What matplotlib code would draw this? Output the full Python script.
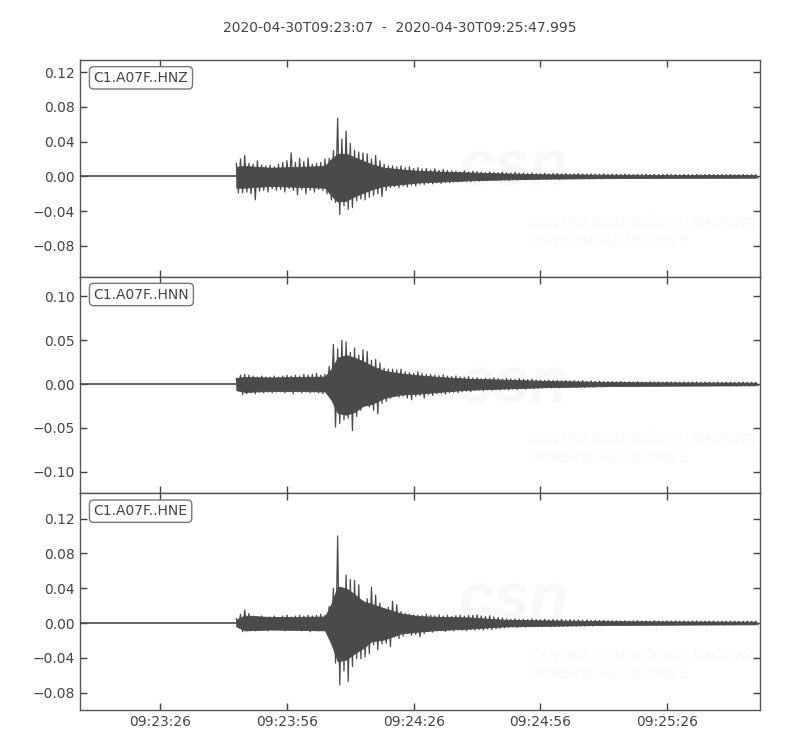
import numpy as np
import matplotlib
matplotlib.use("Agg")
import matplotlib.pyplot as plt
import matplotlib.dates as mdates
from matplotlib.ticker import MultipleLocator

# record span
START = "2020-04-30T09:23:07"
END = "2020-04-30T09:25:47.995"
ONSET_S = 36.85          # first arrival, seconds after start
FIRST_SAMPLE_S = 37      # first peak value, 1 s apart

CHANNELS = ["C1.A07F..HNZ", "C1.A07F..HNN", "C1.A07F..HNE"]

# positive / negative peaks of each trace, in 1e-3 units, one value per second
Z_UP = [15, 20, 24, 15, 14, 18, 13, 12, 13, 11, 14, 16, 18, 27, 16, 21, 17, 21, 14, 15, 16, 20,
        21, 30, 67, 43, 52, 38, 30, 28, 27, 26, 20, 24, 18, 14, 12, 12, 11, 12, 10, 11, 9, 10,
        8.5, 9.0, 7.5, 8.8, 7.0, 8.0, 6.8, 6.2,
        6.0, 5.2, 6.4, 5.0, 5.8, 5.3, 4.8, 4.3, 5.1, 4.6, 4.2, 5.0, 4.1, 3.9, 4.6, 3.8,
        3.6, 3.2, 3.9, 3.1, 3.0, 3.5, 2.9, 3.1, 3.3, 2.8, 3.0, 2.6, 2.9, 3.2, 2.7, 2.5,
        2.8, 2.6, 2.4, 2.9, 2.3, 2.7, 2.4, 2.2, 2.6, 2.3, 2.1, 2.4, 2.2, 2.5, 2.0, 2.3,
        2.1, 2.2, 2.4, 2.0, 2.2, 1.9, 2.3, 2.1, 2.0, 2.2, 1.9, 2.1, 2.3, 2.0, 1.9, 2.1,
        2.0, 2.2, 1.9, 2.0, 2.1, 1.8, 2.0, 1.9]
Z_LO = [-19, -19, -18, -20, -27, -17, -16, -18, -14, -16, -15, -18, -14, -16, -21, -15, -20, -16,
        -18, -15, -16, -20, -27, -30, -44, -34, -38, -36, -28, -26, -27, -24, -22, -20, -23, -16,
        -13, -12, -13, -11, -12, -10, -11, -9,
        -9.2, -8.0, -8.6, -7.4, -8.1, -6.9, -7.2, -6.5,
        -6.3, -5.7, -5.4, -6.0, -5.1, -5.5, -4.7, -5.0, -4.4, -4.8, -4.5, -4.0, -4.6, -3.9, -4.2, -3.7,
        -3.8, -3.4, -3.2, -3.6, -2.9, -3.3, -3.1, -2.8, -3.2, -2.9, -2.7, -3.0, -2.6, -2.8, -2.5, -2.9,
        -2.6, -2.4, -2.7, -2.3, -2.5, -2.6, -2.2, -2.4, -2.1, -2.5, -2.3, -2.0, -2.4, -2.2, -2.1, -2.3,
        -2.0, -2.2, -2.1, -1.9, -2.3, -2.0, -2.1, -2.2, -1.9, -2.0, -2.2, -1.8, -2.1, -2.0, -1.9, -2.2,
        -2.0, -1.9, -2.1, -1.8, -2.0, -2.1, -1.9, -2.0]

N_UP = [6, 10, 11, 10, 9, 8, 9, 8, 8, 9, 8, 9, 10, 9, 10, 9, 11, 10, 11, 12, 10, 11,
        20, 45, 40, 50, 48, 36, 41, 33, 39, 37, 27, 28, 24, 18, 17, 17, 16, 17, 14, 13, 12, 14,
        12, 11, 11, 10, 9.5, 10.5, 9.0, 8.5, 9.2, 8.0, 7.6, 8.2,
        6.8, 7.2, 6.1, 6.6, 5.9, 7.0, 6.2, 5.6, 6.4, 5.8, 5.2, 6.0, 5.4, 4.9, 5.5, 4.6,
        4.4, 4.0, 4.6, 3.9, 4.2, 3.7, 4.1, 3.6, 3.9, 3.4, 3.8, 3.2, 3.5, 3.0, 3.3, 2.9,
        2.7, 2.9, 2.5, 2.8, 2.4, 2.6, 2.3, 2.7, 2.4, 2.2, 2.6, 2.3, 2.5, 2.1, 2.4, 2.2,
        2.3, 2.0, 2.4, 2.1, 2.2, 2.3, 1.9, 2.2, 2.1, 2.0, 2.3, 1.9, 2.1, 2.2, 1.9, 2.0, 2.1, 1.9, 2.0, 1.9]
N_LO = [-8, -12, -11, -10, -11, -9, -10, -9, -10, -9, -9, -10, -9, -11, -9, -10, -9, -10, -9, -10,
        -11, -10, -16, -49, -45, -41, -39, -53, -37, -30, -24, -26, -30, -34, -22, -20, -16, -14,
        -15, -14, -16, -18, -14, -13,
        -16, -12, -13, -11, -10.5, -11.5, -10, -9.5, -9.8, -8.6, -8.0, -8.8,
        -7.4, -6.9, -7.6, -6.5, -7.1, -6.3, -6.8, -6.0, -6.6, -5.7, -6.2, -5.4, -5.9, -5.0, -5.3, -4.8,
        -4.6, -4.2, -4.5, -4.0, -4.3, -3.8, -4.1, -3.6, -3.9, -3.5, -3.7, -3.3, -3.4, -3.1, -3.2, -2.9,
        -2.8, -2.6, -2.9, -2.5, -2.7, -2.4, -2.6, -2.3, -2.5, -2.4, -2.2, -2.6, -2.3, -2.4, -2.1, -2.3,
        -2.2, -2.4, -2.0, -2.3, -2.1, -2.2, -2.0, -2.3, -1.9, -2.1, -2.2, -2.0, -2.1, -1.9, -2.2, -2.0,
        -1.9, -2.1, -2.0, -1.9]

E_UP = [5, 10, 15, 11, 8, 7, 8, 6, 7, 8, 6, 8, 9, 7, 8, 9, 8, 9, 8, 9, 10, 9,
        19, 40, 100, 40, 55, 50, 49, 44, 25, 28, 41, 32, 23, 15, 18, 25, 21, 13, 11, 10, 9, 9,
        8.5, 10, 9.0, 8.2, 9.4, 8.0, 8.8, 7.6, 8.4, 9.0, 7.8, 8.6,
        8.8, 9.4, 8.0, 7.6, 8.4, 7.0, 6.4, 5.8,
        4.6, 4.2, 4.8, 4.0, 4.4, 3.9, 4.6, 4.1, 3.8, 4.3, 3.7, 4.0, 3.6, 4.2, 3.5, 3.8,
        3.4, 3.6, 3.2, 3.5, 3.0, 3.3, 2.9, 3.1,
        2.8, 2.5, 2.7, 2.4, 2.6, 2.3, 2.5, 2.7, 2.3, 2.4, 2.2, 2.6, 2.3, 2.1, 2.4, 2.2, 2.5, 2.1,
        2.3, 2.0, 2.2, 2.4, 2.0, 2.2, 2.1, 2.3, 1.9, 2.1, 2.2, 2.0, 2.1, 1.9, 2.0, 2.2, 1.9, 2.0]
E_LO = [-4, -10, -9, -8, -9, -8, -7, -9, -8, -7, -8, -9, -8, -7, -8, -9, -8, -10, -8, -9, -8, -10,
        -18, -46, -71, -55, -67, -50, -41, -41, -39, -35, -25, -31, -24, -23, -27, -16, -18, -15,
        -12, -14, -13, -16,
        -12, -9.5, -10.5, -9.0, -8.6, -9.8, -8.2, -9.0, -7.8, -8.4, -8.9, -7.6,
        -8.2, -7.4, -8.0, -7.0, -7.6, -6.6, -6.0, -5.5,
        -4.8, -4.4, -5.0, -4.2, -4.6, -4.0, -4.5, -4.1, -4.3, -3.8, -4.2, -3.7, -4.0, -3.6, -3.9, -3.4,
        -3.7, -3.3, -3.5, -3.1, -3.4, -3.0, -3.2, -2.9,
        -2.8, -2.6, -2.9, -2.5, -2.7, -2.4, -2.6, -2.3, -2.5, -2.2, -2.6, -2.3, -2.4, -2.1, -2.3, -2.5,
        -2.1, -2.2, -2.0, -2.3, -2.1, -2.2, -1.9, -2.2, -2.0, -2.1, -1.9, -2.2, -2.0, -2.1, -1.9, -2.0,
        -2.1, -1.9, -2.0, -1.9]

# solid core of each trace (where the wiggles overlap), 1e-3 units
CORE_S = [37, 39, 45, 52, 58, 59.5, 61, 63, 65, 67, 69, 72, 76, 80, 85, 92, 100, 110, 125, 140, 160]
Z_CORE_UP = [11, 12, 10, 11, 12, 20, 26, 26, 22, 18, 14, 10, 8, 6.5, 5.5, 4.5, 3.4, 2.4, 1.9, 1.6, 1.5]
Z_CORE_LO = [-13, -13, -11, -12, -13, -22, -29, -28, -23, -19, -15, -11, -9, -7, -6, -4.6,
             -3.5, -2.6, -2.0, -1.7, -1.5]
N_CORE_UP = [7, 8, 7.5, 8, 8.5, 17, 30, 33, 30, 26, 21, 15, 12, 10, 8, 6, 5, 3.5, 2.3, 1.8, 1.5]
N_CORE_LO = [-7, -9, -8, -8, -8.5, -18, -33, -35, -32, -25, -23, -16, -12, -11, -9, -6.5, -5.2,
             -3.6, -2.4, -1.9, -1.5]
E_CORE_UP = [4, 8.5, 7, 7, 7.5, 22, 42, 40, 33, 25, 22, 17, 11, 8, 7, 6.5, 3.8, 3.0, 2.1, 1.8, 1.5]
E_CORE_LO = [-4, -8.5, -7.5, -8, -8.5, -24, -44, -42, -35, -29, -21, -19, -12, -10, -8, -6.5, -4.0,
             -3.2, -2.2, -1.9, -1.5]

UPPERS = [Z_UP, N_UP, E_UP]
LOWERS = [Z_LO, N_LO, E_LO]
CORE_UPPERS = [Z_CORE_UP, N_CORE_UP, E_CORE_UP]
CORE_LOWERS = [Z_CORE_LO, N_CORE_LO, E_CORE_LO]
YLIMS = [(-0.1153, 0.1338), (-0.1246, 0.1223), (-0.1000, 0.1490)]
YSTEPS = [0.04, 0.05, 0.04]

TRACE_COLOR = "#4a4a4a"
TEXT_COLOR = "#444444"
MARK_COLOR = "#f8f8f8"

plt.rcParams["font.family"] = ["DejaVu Sans"]
plt.rcParams["font.size"] = 10

t_start = np.datetime64(START)
t_end = np.datetime64(END)
base = mdates.date2num(t_start)
span_s = (t_end - t_start) / np.timedelta64(1, "ms") / 1000.0


def to_num(seconds):
    return base + np.asarray(seconds, dtype=float) / 86400.0


fig, axs = plt.subplots(3, 1, sharex=True, figsize=(8, 7.5), dpi=100)
fig.subplots_adjust(left=0.1, right=0.95, top=0.92, bottom=0.0533, hspace=0)

for ax, name, up, lo, cup, clo, ylim, step in zip(axs, CHANNELS, UPPERS, LOWERS,
                                                  CORE_UPPERS, CORE_LOWERS, YLIMS, YSTEPS):
    up = np.asarray(up, dtype=float) * 1e-3
    lo = np.asarray(lo, dtype=float) * 1e-3
    cup = np.asarray(cup, dtype=float) * 1e-3
    clo = np.asarray(clo, dtype=float) * 1e-3
    secs = FIRST_SAMPLE_S + np.arange(len(up))

    # quiet part before the first arrival
    ax.plot(to_num([0.0, ONSET_S, CORE_S[0]]), [0.0, 0.0, 0.0], color=TRACE_COLOR, lw=1.2, zorder=3)
    # solid body of the shaking
    ax.fill_between(to_num(CORE_S), clo, cup, color=TRACE_COLOR, lw=0.6, ec=TRACE_COLOR, zorder=3)
    # wiggle through the peaks: up at each second, down half a second later
    x = np.empty(2 * len(up))
    y = np.empty(2 * len(up))
    x[0::2], y[0::2] = secs, up
    x[1::2], y[1::2] = secs + 0.5, lo
    ax.plot(to_num(x), y, color=TRACE_COLOR, lw=0.9, zorder=3)

    ax.set_xlim(to_num(0), to_num(span_s))
    ax.set_ylim(*ylim)
    ax.yaxis.set_major_locator(MultipleLocator(step))

    # faint logo watermark
    ax.text(0.637, 0.50, "csn", transform=ax.transAxes, ha="center", va="center",
            fontsize=46, fontweight="bold", style="italic", color=MARK_COLOR,
            family=["Liberation Sans", "DejaVu Sans"], zorder=1)
    ax.text(0.662, 0.25, "CENTRO SISMOLÓGICO NACIONAL", transform=ax.transAxes,
            ha="left", va="center", fontsize=9.8, style="italic", color=MARK_COLOR,
            family=["Liberation Sans", "DejaVu Sans"], zorder=1)
    ax.text(0.659, 0.165, "UNIVERSIDAD DE CHILE", transform=ax.transAxes,
            ha="left", va="center", fontsize=9.8, style="italic", color=MARK_COLOR,
            family=["Liberation Sans", "DejaVu Sans"], zorder=1)

    ax.text(0.02, 0.95, name, transform=ax.transAxes, ha="left", va="top",
            color=TEXT_COLOR, fontsize=10, zorder=5,
            bbox=dict(boxstyle="round,pad=0.3", fc="white", ec="#777777", lw=1))

    ax.tick_params(direction="in", top=True, right=True, length=5, width=1,
                   colors=TEXT_COLOR, labelsize=10)
    for sp in ax.spines.values():
        sp.set_color("#555555")
        sp.set_linewidth(1)

axs[-1].xaxis.set_major_locator(mdates.SecondLocator(bysecond=[26, 56]))
axs[-1].xaxis.set_major_formatter(mdates.DateFormatter("%H:%M:%S"))

fig.suptitle(f"{START}  -  {END}", y=0.972, fontsize=10, color=TEXT_COLOR)

fig.savefig("out.png", dpi=100)
